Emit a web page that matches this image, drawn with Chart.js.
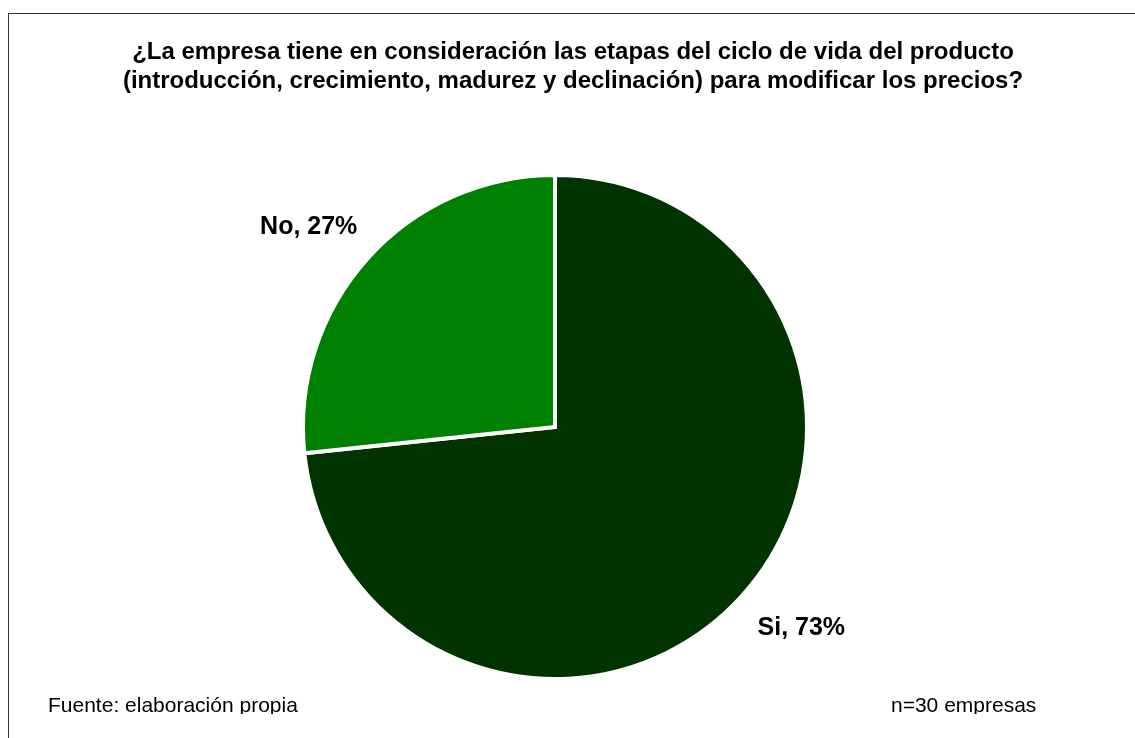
<!DOCTYPE html>
<html>
<head>
<meta charset="utf-8">
<script src="https://cdn.jsdelivr.net/npm/chart.js@4"></script>
<style>
  html, body { margin: 0; padding: 0; background: #fff; }
  body { width: 1135px; height: 738px; position: relative; overflow: hidden;
         font-family: "Liberation Sans", Arial, sans-serif; color: #000; }
  #frame { position: absolute; left: 8px; top: 13px; right: -5px; bottom: -5px;
           border-left: 1px solid #333; border-top: 1px solid #333; }
  #title { position: absolute; left: 0; width: 1146px; top: 36px; text-align: center;
           font-weight: bold; font-size: 24px; line-height: 29px; white-space: nowrap; }
  .foot { position: absolute; top: 693px; height: 21px; overflow: hidden;
          font-size: 21px; line-height: 24px; white-space: nowrap; }
  #pieBox { position: absolute; left: 0; top: 0; width: 1135px; height: 738px; }
</style>
</head>
<body>
<div id="frame"></div>
<div id="pieBox"><canvas id="chart"></canvas></div>
<div id="title">¿La empresa tiene en consideración las etapas del ciclo de vida del producto<br>(introducción, crecimiento, madurez y declinación) para modificar los precios?</div>
<div class="foot" style="left:48px">Fuente: elaboración propia</div>
<div class="foot" style="left:891px">n=30 empresas</div>
<script>
// respuestas de las 30 empresas
const categories = ["Si", "No"];
const counts = [22, 8];
const colors = ["#003300", "#008000"];

const total = counts.reduce((a, b) => a + b, 0);

// etiquetas "Si, 73%" fuera de cada porción
const outsideLabels = {
    id: "outsideLabels",
    afterDatasetsDraw(chart) {
        const ctx = chart.ctx;
        const meta = chart.getDatasetMeta(0);
        ctx.save();
        ctx.font = "bold 25px 'Liberation Sans', Arial, sans-serif";
        ctx.fillStyle = "#000";
        ctx.textAlign = "center";
        ctx.textBaseline = "middle";
        meta.data.forEach((arc, i) => {
            const p = arc.getProps(["x", "y", "startAngle", "endAngle", "outerRadius"], true);
            const mid = (p.startAngle + p.endAngle) / 2 - 0.05;
            const r = p.outerRadius * 1.26;
            const pct = Math.round(counts[i] / total * 100);
            ctx.fillText(`${categories[i]}, ${pct}%`, p.x + Math.cos(mid) * r, p.y + Math.sin(mid) * r + 1);
        });
        ctx.restore();
    }
};

new Chart(document.getElementById("chart"), {
    type: "pie",
    data: {
        labels: categories,
        datasets: [{
            data: counts,
            backgroundColor: colors,
            borderColor: "#ffffff",
            borderWidth: 4,
            borderJoinStyle: "miter"
        }]
    },
    options: {
        responsive: true,
        maintainAspectRatio: false,
        animation: false,
        layout: { padding: { left: 301, top: 173, right: 326, bottom: 57 } },
        plugins: {
            legend: { display: false },
            tooltip: { enabled: false },
            title: { display: false }
        }
    },
    plugins: [outsideLabels]
});
</script>
</body>
</html>
